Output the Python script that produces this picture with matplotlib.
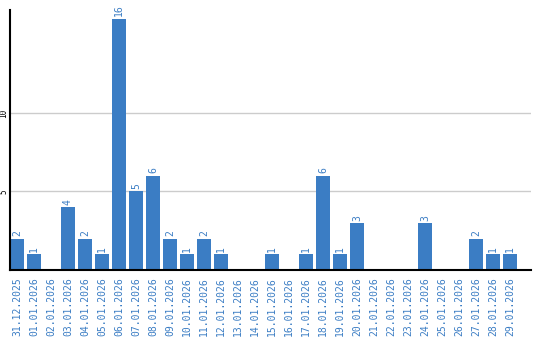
import numpy as np
import matplotlib
matplotlib.use('Agg')
import matplotlib.pyplot as plt

dates = ['31.12.2025'] + ['%02d.01.2026' % d for d in range(1, 30)]
counts = [2, 1, 0, 4, 2, 1, 16, 5, 6, 2, 1, 2, 1, 0, 0,
          1, 0, 1, 6, 1, 3, 0, 0, 0, 3, 0, 0, 2, 1, 1]

blue = '#3b7dc4'
fig = plt.figure(figsize=(5.4, 3.4), dpi=100)
ax = fig.add_axes([10/540, 1 - 270/340, 521/540, 260/340])

x = np.arange(len(dates))
w = 0.82
ax.bar(x, counts, width=w, align='edge', color=blue, zorder=2)
for xi, c in zip(x, counts):
    if c > 0:
        ax.text(xi + w/2, c + 0.15, str(c), rotation=90, ha='center', va='bottom',
                color=blue, fontsize=7, family='DejaVu Sans Mono')

ax.set_xlim(0, 521/17)
ax.set_ylim(0, 16.55)
ax.set_yticks([5, 10])
ax.set_yticklabels(['5', '10'], rotation=90, va='center', fontsize=5.5,
                   family='DejaVu Sans Mono')
ax.set_xticks(x + w/2)
ax.set_xticklabels(dates, rotation=90, color=blue, fontsize=7,
                   family='DejaVu Sans Mono')
ax.tick_params(axis='x', length=0, pad=5)
ax.tick_params(axis='y', length=0, pad=1)
ax.yaxis.grid(True, color='#cccccc', linewidth=1, zorder=0)
for s in ('top', 'right'):
    ax.spines[s].set_visible(False)
ax.spines['left'].set_linewidth(1.5)
ax.spines['bottom'].set_linewidth(1.5)
ax.spines['left'].set_zorder(3)
ax.spines['bottom'].set_zorder(3)

fig.savefig('out.png', dpi=100)
